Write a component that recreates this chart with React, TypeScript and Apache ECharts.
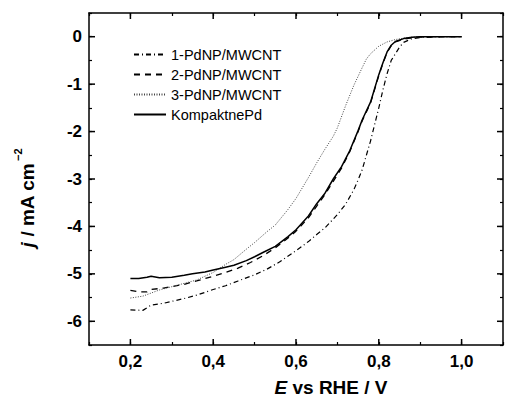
import React, { useEffect, useRef } from "react";
import * as echarts from "echarts";

// ---- data ----
const pd1X = [0.2, 0.23, 0.25, 0.28, 0.3, 0.33, 0.36, 0.4, 0.43, 0.46, 0.5, 0.53, 0.56, 0.6, 0.63, 0.65, 0.67, 0.7, 0.72, 0.74, 0.75, 0.76, 0.77, 0.78, 0.79, 0.8, 0.81, 0.82, 0.83, 0.84, 0.85, 0.86, 0.88, 0.9, 0.92, 0.95, 1.0];
const pd1Y = [-5.76, -5.77, -5.66, -5.62, -5.58, -5.52, -5.45, -5.33, -5.25, -5.15, -5.02, -4.9, -4.75, -4.51, -4.32, -4.17, -4.03, -3.75, -3.53, -3.22, -3.02, -2.8, -2.5, -2.2, -1.85, -1.5, -1.12, -0.78, -0.5, -0.36, -0.22, -0.12, -0.04, -0.02, -0.01, 0, 0];

const pd2X = [0.2, 0.22, 0.24, 0.25, 0.28, 0.3, 0.33, 0.36, 0.4, 0.43, 0.46, 0.49, 0.52, 0.55, 0.58, 0.6, 0.63, 0.65, 0.67, 0.69, 0.71, 0.73, 0.75, 0.76, 0.78, 0.8, 0.81, 0.82, 0.83, 0.84, 0.86, 0.88, 0.9, 0.95, 1.0];
const pd2Y = [-5.35, -5.38, -5.38, -5.33, -5.3, -5.27, -5.22, -5.15, -5.05, -4.97, -4.88, -4.76, -4.62, -4.45, -4.25, -4.1, -3.82, -3.57, -3.33, -3.05, -2.77, -2.42, -2.0, -1.77, -1.4, -0.82, -0.56, -0.33, -0.19, -0.11, -0.05, -0.02, -0.01, 0, 0];

const pd3X = [0.2, 0.23, 0.27, 0.3, 0.33, 0.36, 0.4, 0.43, 0.45, 0.48, 0.5, 0.53, 0.55, 0.58, 0.6, 0.63, 0.65, 0.67, 0.69, 0.7, 0.72, 0.74, 0.76, 0.77, 0.78, 0.8, 0.82, 0.84, 0.86, 0.88, 0.9, 0.95, 1.0];
const pd3Y = [-5.51, -5.47, -5.34, -5.27, -5.2, -5.13, -4.97, -4.8, -4.7, -4.48, -4.34, -4.11, -3.97, -3.65, -3.41, -2.97, -2.66, -2.37, -2.1, -1.92, -1.45, -1.02, -0.65, -0.47, -0.36, -0.2, -0.11, -0.06, -0.03, -0.01, 0, 0, 0];

const kompX = [0.2, 0.22, 0.24, 0.25, 0.27, 0.3, 0.33, 0.35, 0.38, 0.4, 0.43, 0.45, 0.48, 0.5, 0.52, 0.55, 0.58, 0.6, 0.63, 0.65, 0.67, 0.69, 0.71, 0.73, 0.75, 0.76, 0.78, 0.8, 0.81, 0.82, 0.83, 0.84, 0.86, 0.88, 0.9, 0.95, 1.0];
const kompY = [-5.1, -5.1, -5.07, -5.05, -5.08, -5.07, -5.03, -5.0, -4.96, -4.92, -4.86, -4.82, -4.72, -4.64, -4.55, -4.42, -4.22, -4.07, -3.78, -3.52, -3.3, -3.0, -2.74, -2.4, -1.98, -1.75, -1.38, -0.8, -0.55, -0.32, -0.18, -0.1, -0.04, -0.01, 0, 0, 0];

const seriesNames = ["1-PdNP/MWCNT", "2-PdNP/MWCNT", "3-PdNP/MWCNT", "KompaktnePd"];

const X_MIN = 0.1;
const X_MAX = 1.1;
const Y_MIN = -6.5;
const Y_MAX = 0.5;
const xMajorTicks = [0.2, 0.4, 0.6, 0.8, 1.0];
const yMajorTicks = [-6, -5, -4, -3, -2, -1, 0];

const zip = (xs: number[], ys: number[]) => xs.map((x, i) => [x, ys[i]]);

const FONT = 'Arial, "Liberation Sans", sans-serif';

export default function App() {
  const ref = useRef<HTMLDivElement>(null);
  useEffect(() => {
    if (!ref.current) return;
    const chart = echarts.init(ref.current, null, { renderer: "svg" });
    const axisLine = { show: true, onZero: false, lineStyle: { color: "#000", width: 1.5 } };
    const minorTick = { show: true, inside: true, length: 3, lineStyle: { color: "#000", width: 1.2 } };
    const tickStroke = { stroke: "#000", lineWidth: 1.5 };
    const option: any = {
      animation: false,
      backgroundColor: "#fff",
      grid: { left: 89, right: 1, top: 13, bottom: 54, containLabel: false },
      legend: {
        data: seriesNames,
        orient: "vertical",
        left: 133,
        top: 47,
        padding: 0,
        itemWidth: 32,
        itemHeight: 14,
        itemGap: 5,
        itemStyle: { opacity: 0 },
        textStyle: { fontFamily: FONT, fontSize: 14.5, color: "#000" },
      },
      xAxis: [
        {
          type: "value",
          min: X_MIN,
          max: X_MAX,
          interval: 0.1,
          position: "bottom",
          axisLine,
          axisTick: minorTick,
          splitLine: { show: false },
          axisLabel: {
            margin: 8,
            fontFamily: FONT,
            fontSize: 17,
            fontWeight: "bold",
            color: "#000",
            formatter: (v: number) => {
              const k = Math.round(v * 10);
              return k % 2 === 0 ? (k / 10).toFixed(1).replace(".", ",") : "";
            },
          },
        },
        {
          type: "value",
          min: X_MIN,
          max: X_MAX,
          interval: 0.1,
          position: "top",
          axisLine,
          axisTick: minorTick,
          splitLine: { show: false },
          axisLabel: { show: false },
        },
      ],
      yAxis: [
        {
          type: "value",
          min: Y_MIN,
          max: Y_MAX,
          interval: 0.5,
          position: "left",
          axisLine,
          axisTick: minorTick,
          splitLine: { show: false },
          axisLabel: {
            margin: 7,
            fontFamily: FONT,
            fontSize: 17,
            fontWeight: "bold",
            color: "#000",
            formatter: (v: number) => (Math.abs(v - Math.round(v)) < 1e-6 ? String(Math.round(v)) : ""),
          },
        },
        {
          type: "value",
          min: Y_MIN,
          max: Y_MAX,
          interval: 0.5,
          position: "right",
          axisLine,
          axisTick: minorTick,
          splitLine: { show: false },
          axisLabel: { show: false },
        },
      ],
      series: [
        {
          name: seriesNames[0],
          type: "line",
          symbol: "none",
          data: zip(pd1X, pd1Y),
          lineStyle: { color: "#000", width: 1.2, type: [5, 3, 1, 3] },
          itemStyle: { color: "#000" },
          z: 3,
        },
        {
          name: seriesNames[1],
          type: "line",
          symbol: "none",
          data: zip(pd2X, pd2Y),
          lineStyle: { color: "#000", width: 1.3, type: [6, 5] },
          itemStyle: { color: "#000" },
          z: 3,
        },
        {
          name: seriesNames[2],
          type: "line",
          symbol: "none",
          data: zip(pd3X, pd3Y),
          lineStyle: { color: "#444", width: 1, type: [1, 1.5] },
          itemStyle: { color: "#444" },
          z: 3,
        },
        {
          name: seriesNames[3],
          type: "line",
          symbol: "none",
          data: zip(kompX, kompY),
          lineStyle: { color: "#000", width: 1.5, type: "solid" },
          itemStyle: { color: "#000" },
          z: 4,
        },
        {
          name: "xMajor",
          type: "custom",
          clip: false,
          silent: true,
          data: xMajorTicks.map((v) => [v, Y_MIN]),
          renderItem: (_p: any, api: any) => {
            const v = api.value(0);
            const b = api.coord([v, Y_MIN]);
            const t = api.coord([v, Y_MAX]);
            return {
              type: "group",
              children: [
                { type: "line", shape: { x1: b[0], y1: b[1], x2: b[0], y2: b[1] - 6 }, style: tickStroke },
                { type: "line", shape: { x1: t[0], y1: t[1], x2: t[0], y2: t[1] + 6 }, style: tickStroke },
              ],
            };
          },
        },
        {
          name: "yMajor",
          type: "custom",
          clip: false,
          silent: true,
          data: yMajorTicks.map((v) => [X_MIN, v]),
          renderItem: (_p: any, api: any) => {
            const v = api.value(1);
            const l = api.coord([X_MIN, v]);
            const r = api.coord([X_MAX, v]);
            return {
              type: "group",
              children: [
                { type: "line", shape: { x1: l[0], y1: l[1], x2: l[0] + 6, y2: l[1] }, style: tickStroke },
                { type: "line", shape: { x1: r[0], y1: r[1], x2: r[0] - 6, y2: r[1] }, style: tickStroke },
              ],
            };
          },
        },
      ],
      graphic: [
        {
          type: "text",
          x: 331,
          y: 387,
          style: {
            text: "{i|E}{b| vs RHE / V}",
            align: "center",
            verticalAlign: "middle",
            rich: {
              i: { fontFamily: FONT, fontSize: 19, fontWeight: "bold", fontStyle: "italic", fill: "#000" },
              b: { fontFamily: FONT, fontSize: 19, fontWeight: "bold", fill: "#000" },
            },
          },
        },
        {
          type: "text",
          x: 27,
          y: 198,
          rotation: Math.PI / 2,
          style: {
            text: "{i|j}{b| / mA cm}{s|\u22122}",
            align: "center",
            verticalAlign: "middle",
            rich: {
              i: { fontFamily: FONT, fontSize: 19, fontWeight: "bold", fontStyle: "italic", fill: "#000", lineHeight: 30 },
              b: { fontFamily: FONT, fontSize: 19, fontWeight: "bold", fill: "#000", lineHeight: 30 },
              s: { fontFamily: FONT, fontSize: 11, fontWeight: "bold", fill: "#000", verticalAlign: "top", lineHeight: 12, padding: [0, 0, 0, 2] },
            },
          },
        },
      ],
    };
    chart.setOption(option);
    return () => chart.dispose();
  }, []);
  return <div ref={ref} style={{ width: 506, height: 399, position: "absolute", left: 0, top: 0 }} />;
}
